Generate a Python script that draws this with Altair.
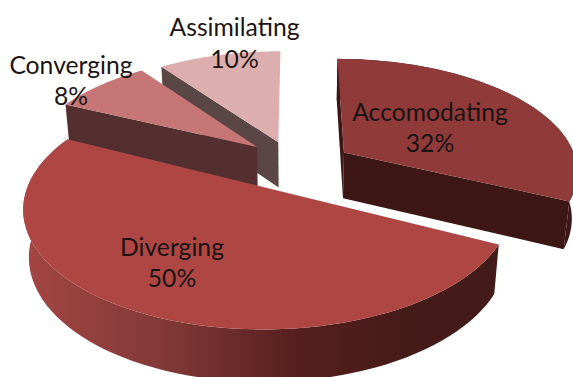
import math
import altair as alt

# Slice data, clockwise from the twelve o'clock position
categories = ["Accomodating", "Diverging", "Converging", "Assimilating"]
shares = [32, 50, 8, 10]

top_colors = ["#903A3A", "#AE4744", "#C67775", "#DDAEAE"]
side_colors = ["#3C1715", "#431B18", "#532F2F", "#5A4645"]

# How far each slice is pulled out of the pie, in disc units (across, towards viewer)
offsets = {
    "Accomodating": (0.215, -0.07),
    "Diverging": (-0.11, 0.2465),
    "Converging": (-0.165, -0.12),
    "Assimilating": (-0.072, -0.165),
}
# Small extra turn of a slice about its own apex, in degrees
turns = {"Accomodating": 0.0, "Diverging": 1.0, "Converging": 0.0, "Assimilating": 0.0}
label_pos = {
    "Accomodating": (430, 114, 145),
    "Diverging": (172, 249, 280),
    "Converging": (71, 67, 98),
    "Assimilating": (234.5, 29, 61),
}

# Perspective camera
X0, Y0, A, B, K, M, H = 294.6, 160.0, 232.0, 110.0, 0.153, 0.02, 47.0
STEPS = 72


def project(a, b, z=0.0):
    s = 1.0 / (1.0 - K * b + M * z)
    return [X0 + A * a * s, Y0 + (B * b + H * z) * s]


def rim(name, phi, z=0.0):
    ox, oy = offsets[name]
    r = math.radians(phi)
    return project(ox + math.sin(r), oy - math.cos(r), z)


def apex(name, z=0.0):
    ox, oy = offsets[name]
    return project(ox, oy, z)


def arc(name, start, end, z=0.0):
    return [rim(name, start + (end - start) * i / STEPS, z) for i in range(STEPS + 1)]


def feature(points, fill):
    ring = points + [points[0]]
    return {
        "type": "Feature",
        "geometry": {"type": "Polygon", "coordinates": [ring]},
        "properties": {"fill": fill},
    }


def radial_face(name, phi, fill):
    return feature(
        [apex(name), rim(name, phi), rim(name, phi, 1.0), apex(name, 1.0)], fill
    )


def outer_wall(name, start, end, fill):
    return feature(arc(name, start, end) + arc(name, start, end, 1.0)[::-1], fill)


def top_face(name, start, end, fill):
    return feature([apex(name)] + arc(name, start, end), fill)


# Slice angles from the shares
angles = {}
cursor = 0.0
for name, share in zip(categories, shares):
    angles[name] = (cursor + turns[name], cursor + share * 3.6 + turns[name])
    cursor += share * 3.6

top = dict(zip(categories, top_colors))
side = dict(zip(categories, side_colors))

faces = []
# Back to front: the slices furthest from the viewer are painted first
name = "Assimilating"
s, e = angles[name]
faces += [radial_face(name, s, side[name]), top_face(name, s, e, top[name])]

name = "Accomodating"
s, e = angles[name]
faces += [
    radial_face(name, s, side[name]),
    radial_face(name, e, side[name]),
    outer_wall(name, s, e, side[name]),
    top_face(name, s, e, top[name]),
]

name = "Converging"
s, e = angles[name]
faces += [radial_face(name, s, side[name]), top_face(name, s, e, top[name])]

name = "Diverging"
s, e = angles[name]
wall = outer_wall(name, s, e, side[name])
div_top = top_face(name, s, e, top[name])

flat = (
    alt.Chart(alt.Data(values=faces))
    .mark_geoshape(strokeWidth=0)
    .encode(fill=alt.Color("properties.fill:N", scale=None, legend=None))
    .project(type="identity", scale=1, translate=[0, 0])
)

wall_gradient = alt.Gradient(
    gradient="linear",
    x1=0, x2=1, y1=0, y2=0,
    stops=[
        alt.GradientStop(color="#A44644", offset=0.0),
        alt.GradientStop(color="#813937", offset=0.3),
        alt.GradientStop(color="#561F1D", offset=0.58),
        alt.GradientStop(color="#451B18", offset=0.8),
        alt.GradientStop(color="#431B18", offset=1.0),
    ],
)

wall_layer = (
    alt.Chart(alt.Data(values=[wall]))
    .mark_geoshape(strokeWidth=0, fill=wall_gradient)
    .project(type="identity", scale=1, translate=[0, 0])
)

top_layer = (
    alt.Chart(alt.Data(values=[div_top]))
    .mark_geoshape(strokeWidth=0, fill=top["Diverging"])
    .project(type="identity", scale=1, translate=[0, 0])
)

rows = []
for name, share in zip(categories, shares):
    x, y1, y2 = label_pos[name]
    rows.append({"x": x, "y": y1, "t": name})
    rows.append({"x": x, "y": y2, "t": f"{share}%"})

x_scale = alt.Scale(domain=[0, 573])
y_scale = alt.Scale(domain=[377, 0])
labels = (
    alt.Chart(alt.Data(values=rows))
    .mark_text(font="Lato", fontSize=24.7, color="#1C1414", align="center", baseline="middle")
    .encode(
        x=alt.X("x:Q", scale=x_scale, axis=None),
        y=alt.Y("y:Q", scale=y_scale, axis=None),
        text="t:N",
    )
)

chart = (
    alt.layer(flat, wall_layer, top_layer, labels)
    .properties(width=573, height=377, padding=0, background="white", autosize="none")
    .configure_view(stroke=None)
)

chart.save("out.html", embed_options={"renderer": "svg", "actions": False})
